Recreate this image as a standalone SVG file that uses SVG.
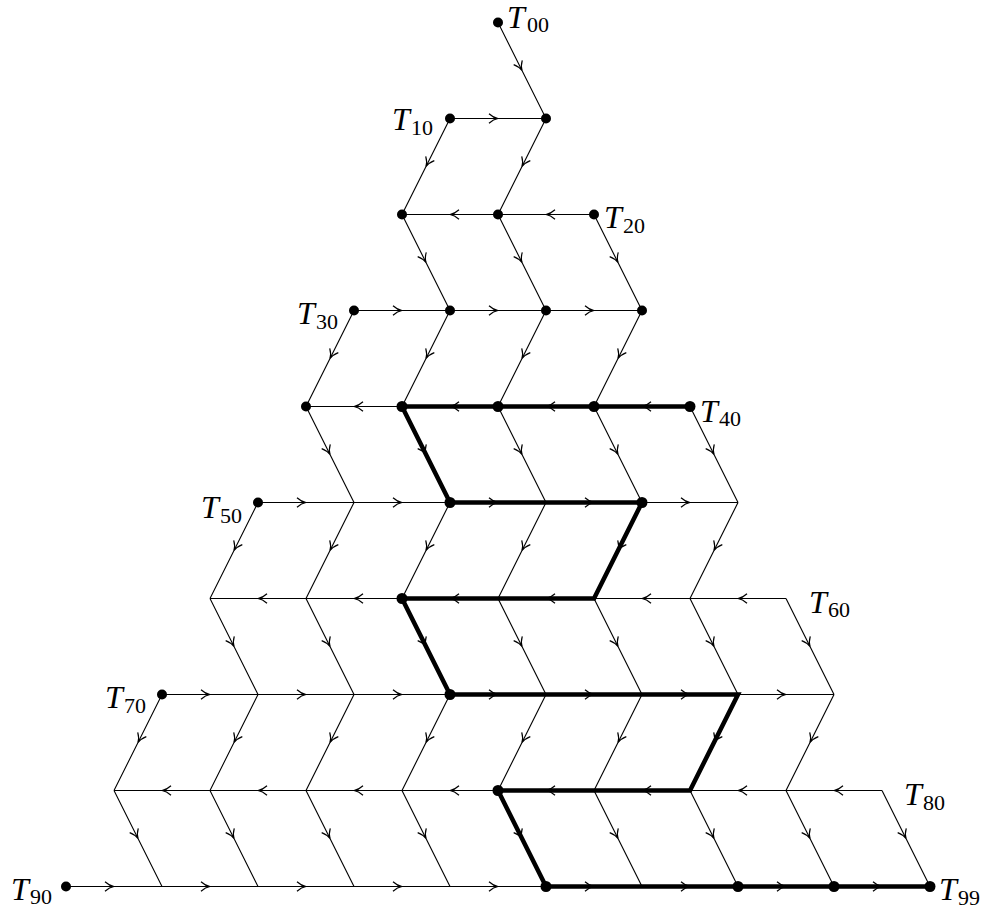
<svg xmlns="http://www.w3.org/2000/svg" width="986" height="909" viewBox="0 0 986 909">
<style>
.e{fill:none;stroke:#000;stroke-width:1.1;marker-mid:url(#a)}
.thick{fill:none;stroke:#000;stroke-width:4.5;stroke-linejoin:miter}
.d{fill:#000}
.lbl{font-family:"Liberation Serif","DejaVu Serif",serif;font-size:32px;fill:#000}
.T{font-style:italic}
.s{font-size:22px}
</style>
<defs>
<marker id="a" viewBox="-10 -6 12 12" refX="0" refY="0" markerWidth="12" markerHeight="12" markerUnits="userSpaceOnUse" orient="auto">
<path d="M-9 -4.8 C-5.5 -1.6 -2.5 -0.4 0 0 C-2.5 0.4 -5.5 1.6 -9 4.8" fill="none" stroke="#000" stroke-width="1.2"/>
</marker>
</defs>
<rect width="986" height="909" fill="#fff"/>
<g id="connectors">
<path class="thick" d="M690 406.5 L402 406.5 L450 502.5 L642 502.5 L594 598.5 L402 598.5 L450 694.5 L738 694.5 L690 790.5 L498 790.5 L546 886.5 L930 886.5"/>
<path class="e" d="M450 118.5 L498 118.5 L546 118.5"/>
<path class="e" d="M594 214.5 L546 214.5 L498 214.5"/>
<path class="e" d="M498 214.5 L450 214.5 L402 214.5"/>
<path class="e" d="M354 310.5 L402 310.5 L450 310.5"/>
<path class="e" d="M450 310.5 L498 310.5 L546 310.5"/>
<path class="e" d="M546 310.5 L594 310.5 L642 310.5"/>
<path class="e" d="M690 406.5 L642 406.5 L594 406.5"/>
<path class="e" d="M594 406.5 L546 406.5 L498 406.5"/>
<path class="e" d="M498 406.5 L450 406.5 L402 406.5"/>
<path class="e" d="M402 406.5 L354 406.5 L306 406.5"/>
<path class="e" d="M258 502.5 L306 502.5 L354 502.5"/>
<path class="e" d="M354 502.5 L402 502.5 L450 502.5"/>
<path class="e" d="M450 502.5 L498 502.5 L546 502.5"/>
<path class="e" d="M546 502.5 L594 502.5 L642 502.5"/>
<path class="e" d="M642 502.5 L690 502.5 L738 502.5"/>
<path class="e" d="M786 598.5 L738 598.5 L690 598.5"/>
<path class="e" d="M690 598.5 L642 598.5 L594 598.5"/>
<path class="e" d="M594 598.5 L546 598.5 L498 598.5"/>
<path class="e" d="M498 598.5 L450 598.5 L402 598.5"/>
<path class="e" d="M402 598.5 L354 598.5 L306 598.5"/>
<path class="e" d="M306 598.5 L258 598.5 L210 598.5"/>
<path class="e" d="M162 694.5 L210 694.5 L258 694.5"/>
<path class="e" d="M258 694.5 L306 694.5 L354 694.5"/>
<path class="e" d="M354 694.5 L402 694.5 L450 694.5"/>
<path class="e" d="M450 694.5 L498 694.5 L546 694.5"/>
<path class="e" d="M546 694.5 L594 694.5 L642 694.5"/>
<path class="e" d="M642 694.5 L690 694.5 L738 694.5"/>
<path class="e" d="M738 694.5 L786 694.5 L834 694.5"/>
<path class="e" d="M882 790.5 L834 790.5 L786 790.5"/>
<path class="e" d="M786 790.5 L738 790.5 L690 790.5"/>
<path class="e" d="M690 790.5 L642 790.5 L594 790.5"/>
<path class="e" d="M594 790.5 L546 790.5 L498 790.5"/>
<path class="e" d="M498 790.5 L450 790.5 L402 790.5"/>
<path class="e" d="M402 790.5 L354 790.5 L306 790.5"/>
<path class="e" d="M306 790.5 L258 790.5 L210 790.5"/>
<path class="e" d="M210 790.5 L162 790.5 L114 790.5"/>
<path class="e" d="M66 886.5 L114 886.5 L162 886.5"/>
<path class="e" d="M162 886.5 L210 886.5 L258 886.5"/>
<path class="e" d="M258 886.5 L306 886.5 L354 886.5"/>
<path class="e" d="M354 886.5 L402 886.5 L450 886.5"/>
<path class="e" d="M450 886.5 L498 886.5 L546 886.5"/>
<path class="e" d="M546 886.5 L594 886.5 L642 886.5"/>
<path class="e" d="M642 886.5 L690 886.5 L738 886.5"/>
<path class="e" d="M738 886.5 L786 886.5 L834 886.5"/>
<path class="e" d="M834 886.5 L882 886.5 L930 886.5"/>
<path class="e" d="M498 22.5 L522 70.5 L546 118.5"/>
<path class="e" d="M450 118.5 L426 166.5 L402 214.5"/>
<path class="e" d="M546 118.5 L522 166.5 L498 214.5"/>
<path class="e" d="M402 214.5 L426 262.5 L450 310.5"/>
<path class="e" d="M498 214.5 L522 262.5 L546 310.5"/>
<path class="e" d="M594 214.5 L618 262.5 L642 310.5"/>
<path class="e" d="M354 310.5 L330 358.5 L306 406.5"/>
<path class="e" d="M450 310.5 L426 358.5 L402 406.5"/>
<path class="e" d="M546 310.5 L522 358.5 L498 406.5"/>
<path class="e" d="M642 310.5 L618 358.5 L594 406.5"/>
<path class="e" d="M306 406.5 L330 454.5 L354 502.5"/>
<path class="e" d="M402 406.5 L426 454.5 L450 502.5"/>
<path class="e" d="M498 406.5 L522 454.5 L546 502.5"/>
<path class="e" d="M594 406.5 L618 454.5 L642 502.5"/>
<path class="e" d="M690 406.5 L714 454.5 L738 502.5"/>
<path class="e" d="M258 502.5 L234 550.5 L210 598.5"/>
<path class="e" d="M354 502.5 L330 550.5 L306 598.5"/>
<path class="e" d="M450 502.5 L426 550.5 L402 598.5"/>
<path class="e" d="M546 502.5 L522 550.5 L498 598.5"/>
<path class="e" d="M642 502.5 L618 550.5 L594 598.5"/>
<path class="e" d="M738 502.5 L714 550.5 L690 598.5"/>
<path class="e" d="M210 598.5 L234 646.5 L258 694.5"/>
<path class="e" d="M306 598.5 L330 646.5 L354 694.5"/>
<path class="e" d="M402 598.5 L426 646.5 L450 694.5"/>
<path class="e" d="M498 598.5 L522 646.5 L546 694.5"/>
<path class="e" d="M594 598.5 L618 646.5 L642 694.5"/>
<path class="e" d="M690 598.5 L714 646.5 L738 694.5"/>
<path class="e" d="M786 598.5 L810 646.5 L834 694.5"/>
<path class="e" d="M162 694.5 L138 742.5 L114 790.5"/>
<path class="e" d="M258 694.5 L234 742.5 L210 790.5"/>
<path class="e" d="M354 694.5 L330 742.5 L306 790.5"/>
<path class="e" d="M450 694.5 L426 742.5 L402 790.5"/>
<path class="e" d="M546 694.5 L522 742.5 L498 790.5"/>
<path class="e" d="M642 694.5 L618 742.5 L594 790.5"/>
<path class="e" d="M738 694.5 L714 742.5 L690 790.5"/>
<path class="e" d="M834 694.5 L810 742.5 L786 790.5"/>
<path class="e" d="M114 790.5 L138 838.5 L162 886.5"/>
<path class="e" d="M210 790.5 L234 838.5 L258 886.5"/>
<path class="e" d="M306 790.5 L330 838.5 L354 886.5"/>
<path class="e" d="M402 790.5 L426 838.5 L450 886.5"/>
<path class="e" d="M498 790.5 L522 838.5 L546 886.5"/>
<path class="e" d="M594 790.5 L618 838.5 L642 886.5"/>
<path class="e" d="M690 790.5 L714 838.5 L738 886.5"/>
<path class="e" d="M786 790.5 L810 838.5 L834 886.5"/>
<path class="e" d="M882 790.5 L906 838.5 L930 886.5"/>
</g>
<g id="T00"><circle class="d" cx="498" cy="22.5" r="5"/><text class="lbl" y="28"><tspan class="T" x="507">T</tspan><tspan class="s" x="527" y="32">00</tspan></text></g>
<g id="T10"><circle class="d" cx="450" cy="118.5" r="5"/><text class="lbl" y="130"><tspan class="T" x="392">T</tspan><tspan class="s" x="411" y="135">10</tspan></text></g>
<g id="n11"><circle class="d" cx="546" cy="118.5" r="5"/></g>
<g id="n21"><circle class="d" cx="402" cy="214.5" r="5"/></g>
<g id="n22"><circle class="d" cx="498" cy="214.5" r="5"/></g>
<g id="T20"><circle class="d" cx="594" cy="214.5" r="5"/><text class="lbl" y="228"><tspan class="T" x="604">T</tspan><tspan class="s" x="623" y="233">20</tspan></text></g>
<g id="T30"><circle class="d" cx="354" cy="310.5" r="5"/><text class="lbl" y="324"><tspan class="T" x="297">T</tspan><tspan class="s" x="316" y="329">30</tspan></text></g>
<g id="n31"><circle class="d" cx="450" cy="310.5" r="5"/></g>
<g id="n32"><circle class="d" cx="546" cy="310.5" r="5"/></g>
<g id="n33"><circle class="d" cx="642" cy="310.5" r="5"/></g>
<g id="n41"><circle class="d" cx="306" cy="406.5" r="5"/></g>
<g id="n42"><circle class="d" cx="402" cy="406.5" r="5.5"/></g>
<g id="n43"><circle class="d" cx="498" cy="406.5" r="5.5"/></g>
<g id="n44"><circle class="d" cx="594" cy="406.5" r="5.5"/></g>
<g id="T40"><circle class="d" cx="690" cy="406.5" r="5.5"/><text class="lbl" y="422"><tspan class="T" x="700">T</tspan><tspan class="s" x="719" y="426">40</tspan></text></g>
<g id="T50"><circle class="d" cx="258" cy="502.5" r="5"/><text class="lbl" y="518"><tspan class="T" x="201">T</tspan><tspan class="s" x="220" y="523">50</tspan></text></g>
<g id="n52"><circle class="d" cx="450" cy="502.5" r="5.5"/></g>
<g id="n54"><circle class="d" cx="642" cy="502.5" r="5.5"/></g>
<g id="n62"><circle class="d" cx="402" cy="598.5" r="5.5"/></g>
<g id="T60"><text class="lbl" y="613"><tspan class="T" x="809">T</tspan><tspan class="s" x="828" y="617">60</tspan></text></g>
<g id="T70"><circle class="d" cx="162" cy="694.5" r="5"/><text class="lbl" y="708"><tspan class="T" x="105">T</tspan><tspan class="s" x="124" y="713">70</tspan></text></g>
<g id="n73"><circle class="d" cx="450" cy="694.5" r="5.5"/></g>
<g id="n84"><circle class="d" cx="498" cy="790.5" r="5.5"/></g>
<g id="T80"><text class="lbl" y="805"><tspan class="T" x="904">T</tspan><tspan class="s" x="923" y="810">80</tspan></text></g>
<g id="T90"><circle class="d" cx="66" cy="886.5" r="5"/><text class="lbl" y="900"><tspan class="T" x="11">T</tspan><tspan class="s" x="30" y="904">90</tspan></text></g>
<g id="n95"><circle class="d" cx="546" cy="886.5" r="5.5"/></g>
<g id="n97"><circle class="d" cx="738" cy="886.5" r="5.5"/></g>
<g id="n98"><circle class="d" cx="834" cy="886.5" r="5.5"/></g>
<g id="T99"><circle class="d" cx="930" cy="886.5" r="5.5"/><text class="lbl" y="900"><tspan class="T" x="939">T</tspan><tspan class="s" x="958" y="905">99</tspan></text></g>
</svg>
